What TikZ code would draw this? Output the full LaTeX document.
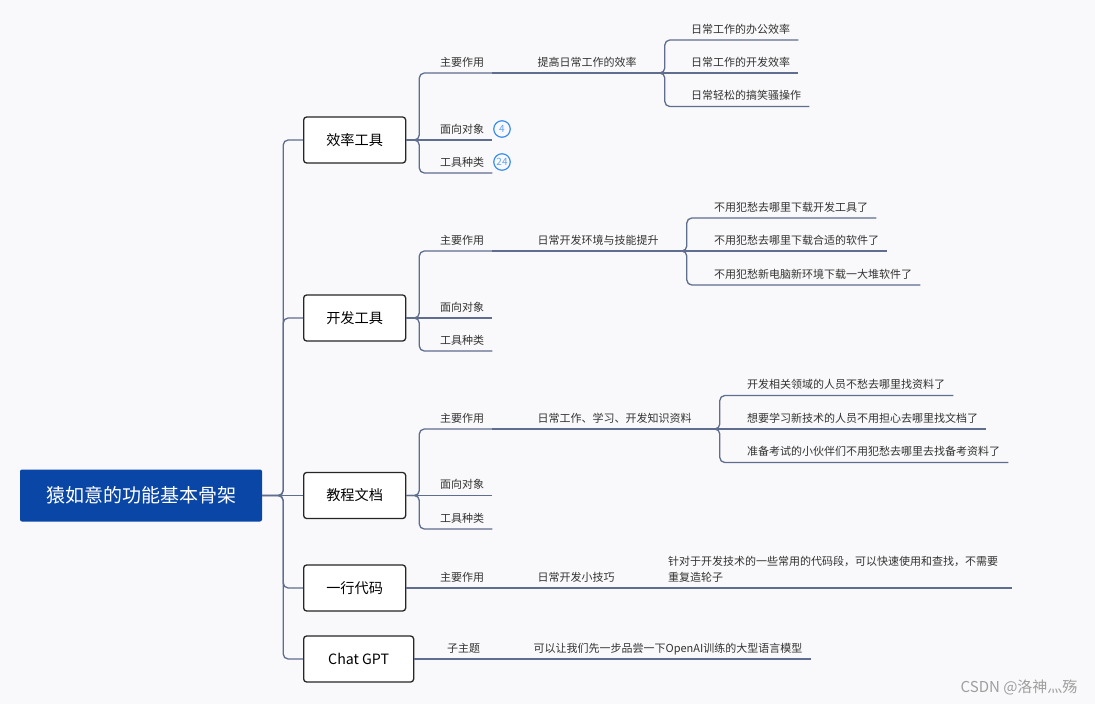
\documentclass[tikz,border=0pt]{standalone}
\usepackage{fontspec}
\setmainfont{Noto Sans CJK SC}
\usepackage{xcolor}
\usetikzlibrary{positioning}

\definecolor{bgc}{HTML}{F9F9FB}
\definecolor{rootc}{HTML}{0A46A6}
\definecolor{linkc}{HTML}{5F6D8F}
\definecolor{badgec}{HTML}{3A8EF0}

\begin{document}
\begin{tikzpicture}[x=1pt, y=-1pt, node distance=37pt,
    root/.style={fill=rootc, rounded corners=2pt, text=white, minimum width=242pt, minimum height=52pt, font=\fontsize{19}{22}\selectfont},
    branch/.style={draw=black!85, line width=1.3pt, rounded corners=3pt, fill=white, minimum width=102pt, minimum height=46pt, anchor=west, font=\fontsize{14.2}{17}\selectfont},
    topic/.style={text=black!80, inner xsep=8pt, inner ysep=6.5pt, text depth=0pt, anchor=south west, font=\fontsize{11}{16}\selectfont},
    badge/.style={circle, draw=badgec, line width=1.2pt, minimum size=16.5pt, inner sep=0pt, text=badgec!80, font=\fontsize{10}{12}\selectfont},
    link/.style={draw=linkc, line width=1.3pt, rounded corners=5pt}]

    \fill[bgc] (0,0) rectangle (1095,704);
    \useasboundingbox (0,0) rectangle (1095,704);

    \node[root] (root) at (141,495.5) {猿如意的功能基本骨架};

    \node[branch] (b1) at (303,140) {效率工具};
    \node[branch] (b2) at (303,318) {开发工具};
    \node[branch] (b3) at (303,495.5) {教程文档};
    \node[branch] (b4) at (303,588) {一行代码};
    \node[branch, minimum width=110pt] (b5) at (303,659) {Chat GPT};

    \node[topic] (a11) at (432,73) {主要作用};
    \node[topic] (a12) at (432,140) {面向对象};
    \node[topic] (a13) at (432,173) {工具种类};
    \node[badge] (n12) at (502,129) {4};
    \node[badge] (n13) at (502,162) {24};
    \node[topic, right=of a11.south east, anchor=south west] (m1) {提高日常工作的效率};
    \node[topic] (l11) at (683,40) {日常工作的办公效率};
    \node[topic] (l12) at (683,73) {日常工作的开发效率};
    \node[topic] (l13) at (683,106.5) {日常轻松的搞笑骚操作};

    \node[topic] (a21) at (432,251) {主要作用};
    \node[topic] (a22) at (432,318) {面向对象};
    \node[topic] (a23) at (432,351) {工具种类};
    \node[topic, right=of a21.south east, anchor=south west] (m2) {日常开发环境与技能提升};
    \node[topic] (l21) at (706,218) {不用犯愁去哪里下载开发工具了};
    \node[topic] (l22) at (706,251) {不用犯愁去哪里下载合适的软件了};
    \node[topic] (l23) at (706,285) {不用犯愁新电脑新环境下载一大堆软件了};

    \node[topic] (a31) at (432,429) {主要作用};
    \node[topic] (a32) at (432,495.5) {面向对象};
    \node[topic] (a33) at (432,529) {工具种类};
    \node[topic, right=of a31.south east, anchor=south west] (m3) {日常工作、学习、开发知识资料};
    \node[topic] (l31) at (739,395.5) {开发相关领域的人员不愁去哪里找资料了};
    \node[topic] (l32) at (739,429) {想要学习新技术的人员不用担心去哪里找文档了};
    \node[topic] (l33) at (739,462.5) {准备考试的小伙伴们不用犯愁去哪里去找备考资料了};

    \node[topic] (a41) at (432,588) {主要作用};
    \node[topic, right=of a41.south east, anchor=south west] (m4) {日常开发小技巧};
    \node[topic, right=of m4.south east, anchor=south west] (l41) {\parbox[b]{336pt}{\raggedright 针对于开发技术的一些常用的代码段，可以快速使用和查找，不需要\\重复造轮子}};

    \node[topic] (a51) at (439,659) {子主题};
    \node[topic, right=of a51.south east, anchor=south west] (m5) {可以让我们先一步品尝一下OpenAI训练的大型语言模型};

    \node[anchor=east, text=black!38, font=\fontsize{15}{17}\selectfont] (mark) at (1081,687) {CSDN @洛神灬殇};

    \draw[link] (root.east) -- ++(21,0) |- (b1.west);
    \draw[link] (root.east) -- ++(21,0) |- (b2.west);
    \draw[link] (root.east) -- (b3.west);
    \draw[link] (root.east) -- ++(21,0) |- (b4.west);
    \draw[link] (root.east) -- ++(21,0) |- (b5.west);

    \draw[link] (b1.east) -- ++(13,0) |- (a11.south east);
    \draw[link] (b1.east) -- (a12.south east);
    \draw[link] (b1.east) -- ++(13,0) |- (a13.south east);
    \draw[link] (a11.south east) -- (m1.south east);
    \draw[link] (m1.south east) -- ++(20,0) |- (l11.south east);
    \draw[link] (m1.south east) -- (l12.south east);
    \draw[link] (m1.south east) -- ++(20,0) |- (l13.south east);

    \draw[link] (b2.east) -- ++(13,0) |- (a21.south east);
    \draw[link] (b2.east) -- (a22.south east);
    \draw[link] (b2.east) -- ++(13,0) |- (a23.south east);
    \draw[link] (a21.south east) -- (m2.south east);
    \draw[link] (m2.south east) -- ++(20,0) |- (l21.south east);
    \draw[link] (m2.south east) -- (l22.south east);
    \draw[link] (m2.south east) -- ++(20,0) |- (l23.south east);

    \draw[link] (b3.east) -- ++(13,0) |- (a31.south east);
    \draw[link] (b3.east) -- (a32.south east);
    \draw[link] (b3.east) -- ++(13,0) |- (a33.south east);
    \draw[link] (a31.south east) -- (m3.south east);
    \draw[link] (m3.south east) -- ++(20,0) |- (l31.south east);
    \draw[link] (m3.south east) -- (l32.south east);
    \draw[link] (m3.south east) -- ++(20,0) |- (l33.south east);

    \draw[link] (b4.east) -- (a41.south east);
    \draw[link] (a41.south east) -- (m4.south east);
    \draw[link] (m4.south east) -- (l41.south east);

    \draw[link] (b5.east) -- (a51.south east);
    \draw[link] (a51.south east) -- (m5.south east);

\end{tikzpicture}
\end{document}
